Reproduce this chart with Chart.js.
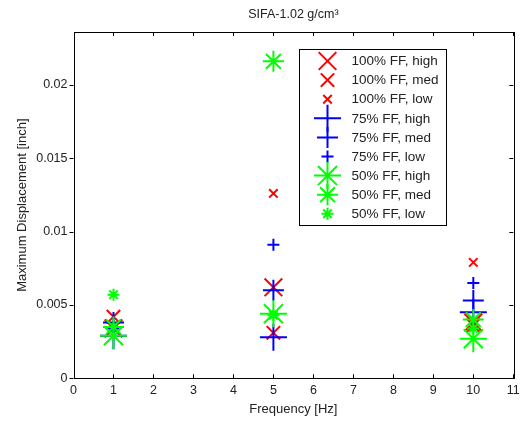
<!DOCTYPE html>
<html><head><meta charset="utf-8">
<script src="https://cdn.jsdelivr.net/npm/chart.js@4.4.0/dist/chart.umd.min.js"></script>
<style>html,body{margin:0;padding:0;background:#fff}#wrap{width:523px;height:423px;position:relative}</style>
</head><body><div id="wrap"><canvas id="c" width="523" height="423"></canvas></div>
<script>
// ---- data ----
const chartTitle = 'SIFA-1.02 g/cm³';
const frequencies = [1, 5, 10];
const seriesLabels = ['100% FF, high','100% FF, med','100% FF, low','75% FF, high','75% FF, med','75% FF, low','50% FF, high','50% FF, med','50% FF, low'];
const ff100High = [0.0034, 0.0062, 0.0038];
const ff100Med  = [0.0042, 0.0031, 0.0036];
const ff100Low  = [0.0035, 0.0126, 0.0079];
const ff75High  = [0.0029, 0.0028, 0.0045];
const ff75Med   = [0.0038, 0.0060, 0.0053];
const ff75Low   = [0.0034, 0.0091, 0.0065];
const ff50High  = [0.0029, 0.0044, 0.0027];
const ff50Med   = [0.0035, 0.0216, 0.0040];
const ff50Low   = [0.0057, 0.0043, 0.0034];
const xTicks = [0,1,2,3,4,5,6,7,8,9,10,11];
const yTicks = [0, 0.005, 0.01, 0.015, 0.02];
const yTickLabels = ['0','0.005','0.01','0.015','0.02'];

const allSeries = [ff100High, ff100Med, ff100Low, ff75High, ff75Med, ff75Low, ff50High, ff50Med, ff50Low];
const styles = [
  {c:'#ff0000', s:'crossRot', r:12.5},
  {c:'#ff0000', s:'crossRot', r:9.5},
  {c:'#ff0000', s:'crossRot', r:6},
  {c:'#0000ff', s:'cross', r:13.5},
  {c:'#0000ff', s:'cross', r:10.5},
  {c:'#0000ff', s:'cross', r:6},
  {c:'#00ff00', s:'star', r:13.5},
  {c:'#00ff00', s:'star', r:10.5},
  {c:'#00ff00', s:'star', r:6}
];
const FONT = 'Arial, "Liberation Sans", sans-serif';
const TXT = '#222';

const datasets = allSeries.map((vals, i) => ({
  label: seriesLabels[i],
  data: frequencies.map((f, k) => ({x: f, y: vals[k]})),
  showLine: false,
  pointStyle: styles[i].s,
  pointRadius: styles[i].r,
  pointHoverRadius: styles[i].r,
  pointBorderColor: styles[i].c,
  pointBackgroundColor: styles[i].c,
  pointBorderWidth: 2,
  borderColor: styles[i].c,
  order: allSeries.length - i
}));

const framePlugin = {
  id: 'frame',
  afterDatasetsDraw(chart) {
    const {ctx, chartArea: a, scales: {x, y}} = chart;
    ctx.save();
    // title centred over the plot area
    ctx.font = '12.5px ' + FONT;
    ctx.fillStyle = TXT;
    ctx.textAlign = 'center';
    ctx.textBaseline = 'middle';
    ctx.fillText(chartTitle, (a.left + a.right) / 2, 15);

    ctx.strokeStyle = '#000';
    ctx.lineWidth = 1;
    ctx.strokeRect(Math.round(a.left)+0.5, Math.round(a.top)+0.5, Math.round(a.right-a.left), Math.round(a.bottom-a.top));
    ctx.beginPath();
    const tl = 4;
    xTicks.forEach(v => {
      const px = Math.round(x.getPixelForValue(v)) + 0.5;
      ctx.moveTo(px, a.bottom); ctx.lineTo(px, a.bottom - tl);
      ctx.moveTo(px, a.top); ctx.lineTo(px, a.top + tl);
    });
    yTicks.forEach(v => {
      const py = Math.round(y.getPixelForValue(v)) + 0.5;
      ctx.moveTo(a.left, py); ctx.lineTo(a.left - tl, py);
      ctx.moveTo(a.right, py); ctx.lineTo(a.right - tl, py);
    });
    ctx.stroke();

    // legend box
    const bx = 299.5, by = 49.5, bw = 147, bh = 176;
    ctx.fillStyle = '#fff';
    ctx.fillRect(bx, by, bw, bh);
    ctx.strokeRect(bx, by, bw, bh);
    chart.data.datasets.forEach((ds, i) => {
      const cy = 61 + i * 19.1;
      ctx.save();
      ctx.strokeStyle = ds.pointBorderColor;
      ctx.fillStyle = ds.pointBorderColor;
      ctx.lineWidth = 2;
      Chart.helpers.drawPoint(ctx, {pointStyle: ds.pointStyle, radius: ds.pointRadius, borderWidth: 2, rotation: 0}, 327.5, cy);
      ctx.restore();
    });
    ctx.font = '13.5px ' + FONT;
    ctx.textBaseline = 'middle';
    ctx.textAlign = 'left';
    ctx.fillStyle = TXT;
    chart.data.datasets.forEach((ds, i) => {
      const cy = 61 + i * 19.1;
      ctx.fillText(ds.label, 351.5, cy + 0.5);
    });
    ctx.restore();
  }
};

new Chart(document.getElementById('c'), {
  type: 'scatter',
  data: { datasets },
  options: {
    responsive: false,
    animation: false,
    events: [],
    layout: { autoPadding: false, padding: { left: 0, right: 9.7, top: 32, bottom: 0 } },
    plugins: {
      legend: { display: false },
      tooltip: { enabled: false },
      title: { display: false }
    },
    scales: {
      x: {
        type: 'linear', min: 0, max: 11,
        afterFit(s) { s.height = 44.7; s.paddingRight = 0; s.paddingLeft = 0; },
        grid: { display: false, drawTicks: false },
        border: { display: false },
        ticks: { stepSize: 1, color: TXT, font: { family: FONT, size: 12.5 }, padding: 5, maxRotation: 0, autoSkip: false, includeBounds: false },
        title: { display: true, text: 'Frequency [Hz]', color: TXT, font: { family: FONT, size: 13 }, padding: { top: 0, bottom: 6 } }
      },
      y: {
        type: 'linear', min: 0, max: 0.0236,
        afterFit(s) { s.width = 73.5; s.paddingTop = 0; s.paddingBottom = 0; },
        grid: { display: false, drawTicks: false },
        border: { display: false },
        ticks: {
          stepSize: 0.005, includeBounds: false, color: TXT, font: { family: FONT, size: 12.5 }, padding: 6,
          callback(v) {
            for (let i = 0; i < yTicks.length; i++) if (Math.abs(v - yTicks[i]) < 1e-9) return yTickLabels[i];
            return '';
          }
        },
        title: { display: true, text: 'Maximum Displacement [inch]', color: TXT, font: { family: FONT, size: 13 }, padding: { top: 15, bottom: 0 } }
      }
    }
  },
  plugins: [framePlugin]
});
</script>
</body></html>
